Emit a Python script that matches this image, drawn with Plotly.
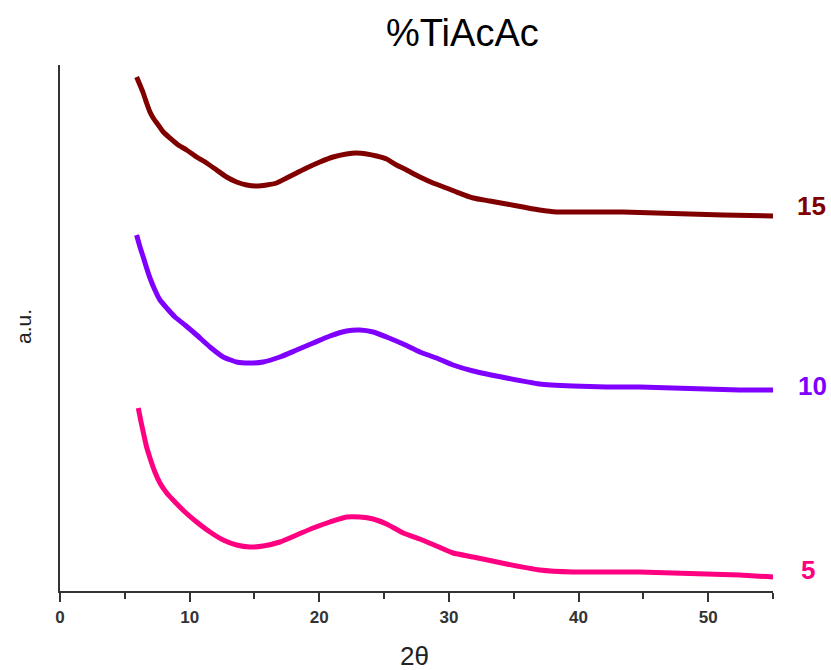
import plotly.graph_objects as go

# 2-theta positions and intensities (a.u.) for each sample
x15 = [5.91, 6.17, 6.42, 6.68, 6.94, 7.19, 7.58, 7.97, 8.48, 9.12, 9.77, 10.54, 11.31, 12.08, 12.85,
       13.62, 14.4, 15.17, 15.94, 16.71, 17.48, 18.25, 19.02, 20.05, 21.07, 22.1, 22.88, 23.65,
       24.42, 25.19, 25.96, 26.73, 27.76, 28.78, 29.81, 30.59, 31.87, 33.15, 34.44, 35.72, 37.0,
       38.3, 40.86, 43.43, 46.0, 48.57, 51.14, 55.0]
y15 = [514, 506, 498, 488, 479, 473, 466, 459, 453, 446, 441, 434, 428, 421, 414,
       409, 406, 405, 406, 408, 413, 418, 423, 429, 434, 437, 438, 437,
       435, 432, 426, 421, 414, 408, 403, 399, 393, 390, 387, 384, 381,
       379, 379, 379, 378, 377, 376, 375]

x10 = [5.91, 6.17, 6.42, 6.68, 6.94, 7.32, 7.71, 8.23, 8.87, 9.64, 10.54, 11.57, 12.59, 13.62,
       14.65, 15.67, 16.96, 18.25, 19.53, 20.82, 22.1, 23.13, 24.16, 25.19, 26.47, 27.76, 29.04,
       30.32, 31.87, 34.44, 37.0, 39.57, 42.14, 44.71, 47.28, 49.85, 52.42, 55.0]
y10 = [356, 344, 334, 323, 313, 301, 291, 283, 274, 266, 256, 244, 234, 229,
       228, 229, 234, 241, 248, 255, 260, 261, 259, 254, 247, 239, 233,
       226, 220, 213, 207, 205, 204, 204, 203, 202, 201, 201]

x5 = [6.04, 6.22, 6.42, 6.68, 6.94, 7.32, 7.71, 8.23, 8.87, 9.64, 10.54, 11.57, 12.59, 13.62,
      14.65, 15.67, 16.96, 18.25, 19.53, 20.82, 22.1, 23.13, 24.16, 25.19, 26.47, 27.76, 29.04,
      30.32, 31.87, 34.44, 37.0, 39.57, 42.14, 44.71, 47.28, 49.85, 52.42, 55.0]
y5 = [183, 171, 159, 144, 133, 119, 108, 98, 89, 79, 69, 59, 51, 46,
      44, 45, 49, 56, 63, 69, 74, 74, 72, 67, 58, 52, 45,
      38, 34, 27, 21, 19, 19, 19, 18, 17, 16, 14]

series_names = ["15", "10", "5"]
series_colors = ["#800000", "#8000ff", "#ff0080"]
label_xshift = [38, 39, 35]
label_yshift = [10, 4, 7]

x_ticks = [0, 10, 20, 30, 40, 50]
x_minor = [5, 15, 25, 35, 45, 55]

FONT = "Arial, Liberation Sans, sans-serif"

fig = go.Figure()
for xs, ys, name, col, dx, dy in zip([x15, x10, x5], [y15, y10, y5], series_names,
                                     series_colors, label_xshift, label_yshift):
    fig.add_trace(go.Scatter(x=xs, y=ys, mode="lines", name=name,
                             line=dict(color=col, width=5, shape="spline", smoothing=0.5),
                             showlegend=False))
    fig.add_annotation(x=xs[-1], y=ys[-1], xref="x", yref="y", text="<b>" + name + "</b>",
                       showarrow=False, xanchor="center", yanchor="middle",
                       xshift=dx, yshift=dy,
                       font=dict(family=FONT, size=26, color=col))

# title and axis titles positioned in plot-relative (paper) coords
PW, PH = 713, 526
fig.add_annotation(xref="paper", yref="paper", x=(463 - 60) / PW, y=(591 - 33) / PH,
                   text="%TiAcAc", showarrow=False, xanchor="center", yanchor="middle",
                   font=dict(family=FONT, size=38, color="#000"))
fig.add_annotation(xref="paper", yref="paper", x=(414 - 60) / PW, y=(591 - 656) / PH,
                   text="2θ", showarrow=False, xanchor="center", yanchor="middle",
                   font=dict(family=FONT, size=26, color="#222"))
fig.add_annotation(xref="paper", yref="paper", x=(23 - 60) / PW, y=(591 - 327) / PH,
                   text="a.u.", showarrow=False, textangle=-90, xanchor="center", yanchor="middle",
                   font=dict(family=FONT, size=21, color="#222"))

fig.update_layout(
    width=831, height=670,
    margin=dict(l=60, r=58, t=65, b=79),
    paper_bgcolor="white", plot_bgcolor="white",
    xaxis=dict(range=[0, 55], tickvals=x_ticks, ticks="outside", ticklen=9, tickwidth=2,
               tickcolor="#333", showline=True, linecolor="#333", linewidth=2,
               showgrid=False, zeroline=False, ticklabelstandoff=1,
               tickfont=dict(family=FONT, size=17, color="#333", weight="bold"),
               minor=dict(tickvals=x_minor, ticks="outside", ticklen=6,
                          tickwidth=2, tickcolor="#333", showgrid=False)),
    yaxis=dict(range=[0, 526], showticklabels=False, ticks="", showline=True,
               linecolor="#333", linewidth=2, showgrid=False, zeroline=False),
)

fig.write_html("out.html", config={"displayModeBar": False},
               post_script="document.body.style.margin='0px';")
